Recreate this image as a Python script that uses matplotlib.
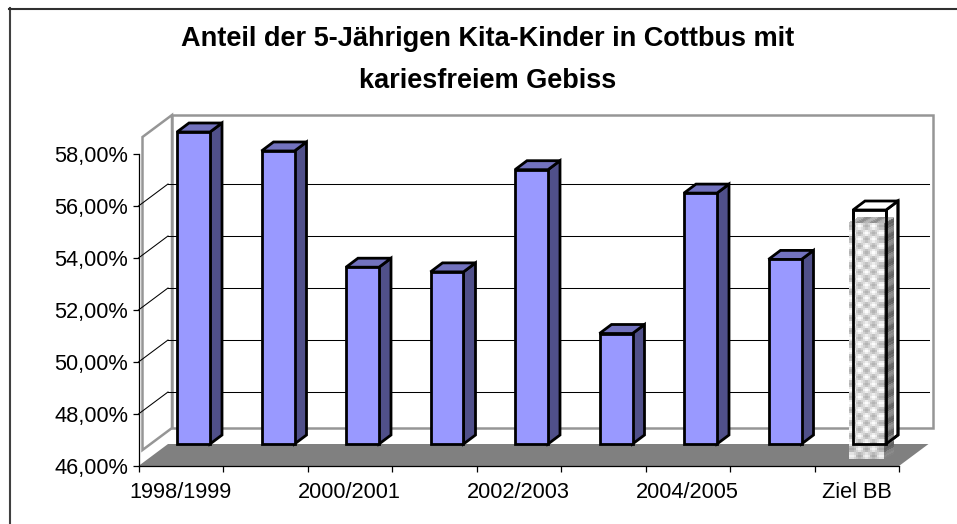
import numpy as np
import matplotlib
matplotlib.use('Agg')
import matplotlib.pyplot as plt
from matplotlib.patches import Polygon

plt.rcParams['font.family'] = ['Liberation Sans', 'DejaVu Sans']

titel = 'Anteil der 5-Jährigen Kita-Kinder in Cottbus mit\nkariesfreiem Gebiss'
jahre = ['1998/1999', '1999/2000', '2000/2001', '2001/2002', '2002/2003',
         '2003/2004', '2004/2005', '2005/2006']
anteil = [58.0, 57.27, 52.8, 52.62, 56.55, 50.25, 55.65, 53.1]
ziel_name = 'Ziel BB'
ziel_wert = 55.0
y_werte = [46, 48, 50, 52, 54, 56, 58]

W, H = 957, 524
fig = plt.figure(figsize=(W / 100, H / 100), dpi=100)
x0, x1, y0, y1 = 138.5, 899, 466, 154
ax = fig.add_axes([x0 / W, 1 - y0 / H, (x1 - x0) / W, (y0 - y1) / H])
ax.patch.set_alpha(0)

# pixel -> data faktoren
px_x = 9 / (x1 - x0)
px_y = 12 / (y0 - y1)
tief_x, tief_y = 29.5 * px_x, 22 * px_y

namen = jahre + [ziel_name]
n = len(namen)

# waende
grau = '#969696'
wand_x, wand_y = 4 * px_x, 16 * px_y
wand_top = 46 + (450 - 137) * px_y
wl = wand_x + (172 - 142.5) * px_x
wr = (933 - x0) * px_x
wu = 46 + wand_y + 22 * px_y
wo = wu + wand_top - 46
ax.add_patch(Polygon([(wand_x, 46 + wand_y), (wand_x, wand_top + wand_y), (wl, wo), (wl, wu)],
                     closed=True, fc='white', ec=grau, lw=1.8, clip_on=False, zorder=1))
ax.add_patch(Polygon([(wl, wu), (wl, wo), (wr, wo), (wr, wu)],
                     closed=True, fc='white', ec=grau, lw=1.8, clip_on=False, zorder=1))

# gitterlinien
for v in y_werte[1:-1]:
    ax.plot([0, tief_x], [v, v + tief_y], color='black', lw=0.75, clip_on=False, zorder=2)
    ax.plot([tief_x, n + tief_x], [v + tief_y, v + tief_y], color='black', lw=0.75, clip_on=False, zorder=2)

# boden
ax.add_patch(Polygon([(0, 46), (tief_x, 46 + tief_y), (n + tief_x, 46 + tief_y), (n, 46)],
                     closed=True, fc='#808080', ec='none', clip_on=False, zorder=3))

# saeulen
breite = 33 * px_x
abstand = (177 - x0) * px_x
t_x, t_y = 12 * px_x, 9 * px_y
rand = 2.0


def saeule(i, wert, front, seite, deckel, zorder=4):
    l = i + abstand
    r = l + breite
    u = 46 + tief_y
    o = wert + tief_y
    ax.add_patch(Polygon([(r, u), (r, o), (r + t_x, o + t_y), (r + t_x, u + t_y)], closed=True,
                         fc=seite, ec='black', lw=rand, joinstyle='miter', clip_on=False, zorder=zorder))
    ax.add_patch(Polygon([(l, o), (l + t_x, o + t_y), (r + t_x, o + t_y), (r, o)], closed=True,
                         fc=deckel, ec='black', lw=rand, joinstyle='miter', clip_on=False, zorder=zorder))
    ax.add_patch(Polygon([(l, u), (l, o), (r, o), (r, u)], closed=True,
                         fc=front, ec='black', lw=rand, joinstyle='miter', clip_on=False, zorder=zorder))


for i, wert in enumerate(anteil):
    saeule(i, wert, '#9999FF', '#50508A', '#7272BE')
saeule(n - 1, ziel_wert, 'white', 'white', 'white')


# karomuster ueber der ziel-saeule, als schraege kacheln, leicht weichgezeichnet
def karo(ecke_ul, ecke_ur, ecke_ol, reihen, spalten, hell, dunkel, alpha, fein=3):
    s = np.linspace(0, 1, spalten * fein + 1)
    t = np.linspace(0, 1, reihen * fein + 1)
    S, T = np.meshgrid(s, t)
    X = ecke_ul[0] + S * (ecke_ur[0] - ecke_ul[0]) + T * (ecke_ol[0] - ecke_ul[0])
    Y = ecke_ul[1] + S * (ecke_ur[1] - ecke_ul[1]) + T * (ecke_ol[1] - ecke_ul[1])
    feld = np.indices((reihen, spalten)).sum(axis=0) % 2
    C = np.where(feld == 0, hell, dunkel).astype(float)
    C = np.kron(C, np.ones((fein, fein)))
    C = (C + np.roll(C, 1, axis=0) + np.roll(C, -1, axis=0) + np.roll(C, 1, axis=1) + np.roll(C, -1, axis=1)) / 5
    ax.pcolormesh(X, Y, C, cmap='gray', vmin=0, vmax=1, alpha=alpha, zorder=5, clip_on=False,
                  shading='flat', edgecolors='none', antialiased=False)


links = (849 - x0) * px_x
rechts = (884 - x0) * px_x
unten = 46 + (466 - 459) * px_y
oben = 46 + (466 - 223) * px_y
dx, dy = 10 * px_x, 6 * px_y
karo((links, unten), (rechts, unten), (links, oben), 36, 5, 0.99, 0.68, 0.92)
karo((rechts, unten), (rechts + dx, unten + dy), (rechts, oben), 36, 1, 0.55, 0.38, 0.95)
karo((links, oben), (rechts, oben), (links + dx, oben + dy), 1, 5, 0.72, 0.54, 0.92)

# kanten der ziel-saeule scheinen durch
zl = n - 1 + abstand
zr = zl + breite
zu = 46 + tief_y
zo = ziel_wert + tief_y
ax.plot([zl, zl, zr, zr], [zo, zu, zu, zo], color='black', lw=rand, clip_on=False, zorder=6,
        solid_joinstyle='miter')
ax.plot([zr, zr + t_x, zr + t_x], [zu, zu + t_y, zo + t_y], color='black', lw=rand, clip_on=False, zorder=6,
        solid_joinstyle='miter')

# achsen
ax.set_xlim(0, n)
ax.set_ylim(46, 58)
for s in ['top', 'right']:
    ax.spines[s].set_visible(False)
for s in ['left', 'bottom']:
    ax.spines[s].set_linewidth(0.9)
    ax.spines[s].set_zorder(6)
ax.set_yticks(y_werte)
ax.set_yticklabels([('%.2f' % v).replace('.', ',') + '%' for v in y_werte])
ax.set_xticks(range(n + 1))
ax.set_xticklabels([])
ax.set_xticks(np.arange(0.5, n, 2), minor=True)
ax.set_xticklabels(namen[::2], minor=True)
ax.tick_params(axis='both', which='major', length=4.5, width=0.9, labelsize=15.7, pad=3)
ax.tick_params(axis='x', which='minor', length=0, labelsize=15.7, pad=11.5)

fig.text(488 / W, 1 - 60 / H, titel, ha='center', va='center', fontsize=19.5, fontweight='bold',
         linespacing=1.82)

# rahmen
fig.add_artist(plt.Line2D([9.5 / W, 9.5 / W], [1 - 8 / H, 0], color='#404040', lw=1.5))
fig.add_artist(plt.Line2D([9 / W, 1], [1 - 8.5 / H, 1 - 8.5 / H], color='#303030', lw=1.5))

fig.savefig('out.png', dpi=100)
